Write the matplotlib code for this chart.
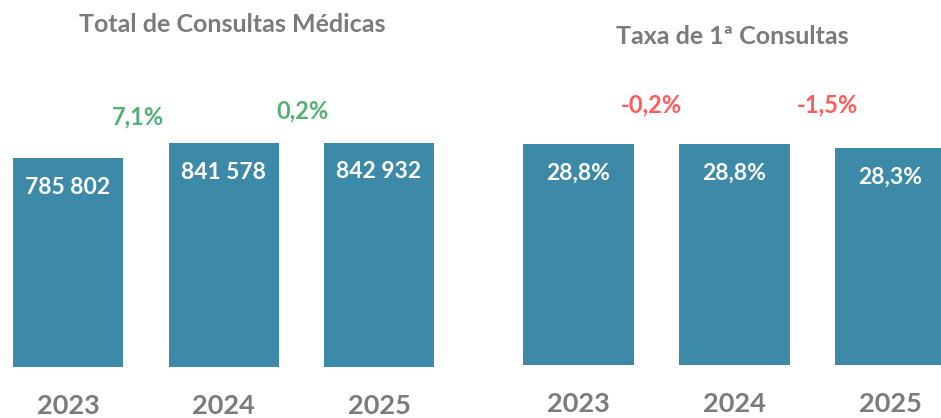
import matplotlib
matplotlib.use("Agg")
import matplotlib.pyplot as plt

plt.rcParams['font.family'] = ['Lato', 'DejaVu Sans']

years = ["2023", "2024", "2025"]

total_consultas = [785802, 841578, 842932]
total_labels = ["785 802", "841 578", "842 932"]
total_growth = ["7,1%", "0,2%"]

taxa_primeiras = [28.8, 28.8, 28.3]
taxa_labels = ["28,8%", "28,8%", "28,3%"]
taxa_growth = ["-0,2%", "-1,5%"]

BAR = "#3c8aa8"
GREY = "#7b7b7b"
GREEN = "#55b074"
RED = "#ff5b5b"

W, H = 941, 418
fig = plt.figure(figsize=(W / 100, H / 100), dpi=100)


def panel(rect_px, centers_px, width_px, base_px, ref_h_px, values, labels,
          growth, gcolor, goffs, title, title_xy):
    left, right = rect_px
    ax = fig.add_axes([left / W, (H - base_px) / H, (right - left) / W, base_px / H])
    step = centers_px[1] - centers_px[0]
    x = range(len(values))
    ax.bar(x, values, width=width_px / step, color=BAR)
    ax.set_xlim((left - centers_px[0]) / step, (right - centers_px[0]) / step)
    ax.set_ylim(0, max(values) * base_px / ref_h_px)
    ax.axis("off")
    for i, v in enumerate(values):
        ax.annotate(labels[i], (i, v), xytext=(0, -29), textcoords="offset pixels",
                    ha="center", va="center", color="white", fontsize=16.5,
                    fontweight="bold")
        ax.annotate(years[i], (i, 0), xytext=(0, -39), textcoords="offset pixels",
                    ha="center", va="center", color=GREY, fontsize=19.5,
                    fontweight="bold", annotation_clip=False)
    for i, g in enumerate(growth):
        top = max(values[i], values[i + 1])
        dx, dy = goffs[i]
        ax.annotate(g, (i + 0.5, top), xytext=(dx, dy), textcoords="offset pixels",
                    ha="center", va="center", color=gcolor, fontsize=17,
                    fontweight="bold")
    fig.text(title_xy[0] / W, 1 - title_xy[1] / H, title, ha="center", va="center",
             color=GREY, fontsize=18, fontweight="bold")
    return ax


panel((0, 470), [68, 223.5, 379], 110, 367, 224, total_consultas, total_labels,
      total_growth, GREEN, [(-8, 26), (1, 32)],
      "Total de Consultas Médicas", (232, 25))
panel((470, 941), [578.5, 734.5, 890.5], 111, 365, 221, taxa_primeiras, taxa_labels,
      taxa_growth, RED, [(-5, 39), (15, 39)],
      "Taxa de 1ª Consultas", (732, 36))

fig.savefig("out.png", dpi=100)
